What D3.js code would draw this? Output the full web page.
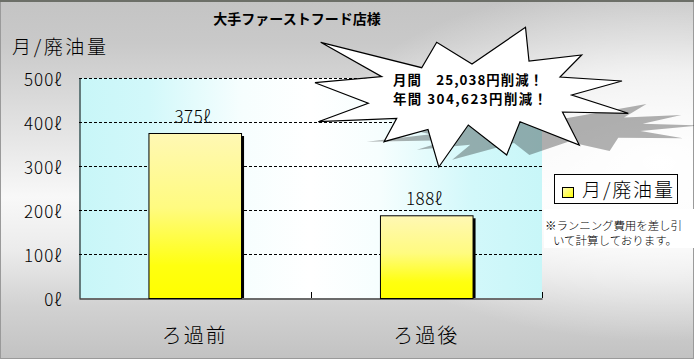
<!DOCTYPE html>
<html><head><meta charset="utf-8">
<script src="https://cdn.jsdelivr.net/npm/d3@7"></script>
<style>
html,body{margin:0;padding:0;background:#fff;}
svg{display:block;}
text{font-family:"Noto Sans CJK JP","Noto Sans",sans-serif;}
.thin{font-weight:300;}
</style></head>
<body>
<svg id="chart" width="694" height="359"></svg>
<script>
// ---- data ----
const categories = ["ろ過前", "ろ過後"];
const values = [375, 188];
const valueLabels = ["375ℓ", "188ℓ"];
const yTicks = [0, 100, 200, 300, 400, 500];
const yTickLabels = ["0ℓ", "100ℓ", "200ℓ", "300ℓ", "400ℓ", "500ℓ"];
const seriesName = "月/廃油量";
const chartTitle = "大手ファーストフード店様";
const calloutLines = ["月間　25,038円削減！", "年間 304,623円削減！"];
const noteLines = ["※ランニング費用を差し引", "いて計算しております。"];
// callout (explosion shape) outline
const starShape = [[320.7,42.3],[421.7,67.7],[436.7,42.3],[472,64],[525.5,27.3],[529,61],[581.7,55],[560,77],[622,81],[571.7,95],[628.3,113.3],[562.5,112],[579.3,145],[520,121.7],[506.7,155],[468.3,125],[438.8,167],[428,129.5],[384,141.7],[396.7,118.3],[318.3,121.7],[368.3,103.3],[315,82.7],[381.7,76.7]];

const svg = d3.select("#chart");
const W = 694, H = 359;
const plot = {x0: 79, x1: 542, y0: 78, y1: 298};

const defs = svg.append("defs");
// background gradient
const bg = defs.append("linearGradient").attr("id","bg").attr("x1",0).attr("y1",0).attr("x2",0).attr("y2",1);
[[0,"#c4c4c4"],[0.12,"#c9c9c9"],[0.35,"#e2e2e2"],[0.55,"#f8f8f8"],[0.7,"#ebebeb"],[0.85,"#d2d2d2"],[1,"#c2c2c2"]]
  .forEach(([o,c])=>bg.append("stop").attr("offset",o).attr("stop-color",c));
const bgR = defs.append("radialGradient").attr("id","bgR").attr("cx",0.95).attr("cy",0.45).attr("r",0.5);
bgR.append("stop").attr("offset",0).attr("stop-color","#fff").attr("stop-opacity",1);
bgR.append("stop").attr("offset",0.5).attr("stop-color","#fff").attr("stop-opacity",0.7);
bgR.append("stop").attr("offset",1).attr("stop-color","#fff").attr("stop-opacity",0);
// plot area gradient
const pg = defs.append("linearGradient").attr("id","pg").attr("x1",0).attr("y1",0).attr("x2",1).attr("y2",0);
[[0,"#c8f6f8"],[0.15,"#d2f8fa"],[0.35,"#f6fefe"],[0.5,"#ffffff"],[0.65,"#f6fefe"],[0.85,"#d2f8fa"],[1,"#c8f6f8"]]
  .forEach(([o,c])=>pg.append("stop").attr("offset",o).attr("stop-color",c));
// bar gradient
const barG = defs.append("linearGradient").attr("id","barG").attr("x1",0).attr("y1",0).attr("x2",0).attr("y2",1);
[[0,"#fff8b4"],[0.45,"#fffb80"],[0.8,"#ffff10"],[1,"#ffff00"]]
  .forEach(([o,c])=>barG.append("stop").attr("offset",o).attr("stop-color",c));
const legG = defs.append("linearGradient").attr("id","legG").attr("x1",0).attr("y1",0).attr("x2",1).attr("y2",1);
legG.append("stop").attr("offset",0).attr("stop-color","#fffbc0");
legG.append("stop").attr("offset",1).attr("stop-color","#ffff00");

// background
svg.append("rect").attr("width",W).attr("height",H).attr("fill","url(#bg)");
svg.append("rect").attr("width",W).attr("height",H).attr("fill","url(#bgR)");
svg.append("rect").attr("x",0.5).attr("y",0.5).attr("width",W-1).attr("height",H-1)
  .attr("fill","none").attr("stroke","#9a9a9a");
svg.append("line").attr("x1",0).attr("x2",W).attr("y1",1).attr("y2",1).attr("stroke","#6c6f68").attr("stroke-width",2);

// scales
const x = d3.scaleBand().domain(categories).range([plot.x0, plot.x1]).paddingInner(0.6).paddingOuter(0.3);
const y = d3.scaleLinear().domain([0, 500]).range([plot.y1, plot.y0]);

// plot area
svg.append("rect").attr("x",plot.x0).attr("y",plot.y0).attr("width",plot.x1-plot.x0).attr("height",plot.y1-plot.y0)
  .attr("fill","url(#pg)");

// gridlines
svg.append("g").selectAll("line").data(yTicks.filter(d=>d>0)).join("line")
  .attr("x1",plot.x0).attr("x2",plot.x1)
  .attr("y1",d=>Math.round(y(d))+0.5).attr("y2",d=>Math.round(y(d))+0.5)
  .attr("stroke","#000").attr("stroke-dasharray","3,2");

// bars (with shadow on right)
const bars = svg.append("g");
bars.selectAll("rect.sh").data(values).join("rect").attr("class","sh")
  .attr("x",(d,i)=>x(categories[i])+3).attr("y",d=>y(d)+3)
  .attr("width",x.bandwidth()).attr("height",d=>y(0)-y(d)-3).attr("fill","#000");
bars.selectAll("rect.b").data(values).join("rect").attr("class","b")
  .attr("x",(d,i)=>x(categories[i])+0.5).attr("y",d=>y(d)+0.5)
  .attr("width",x.bandwidth()).attr("height",d=>y(0)-y(d))
  .attr("fill","url(#barG)").attr("stroke","#000").attr("stroke-width",1);

// value labels
svg.append("g").selectAll("text").data(values).join("text").attr("class","thin")
  .attr("x",(d,i)=>x(categories[i])+x.bandwidth()/2-2).attr("y",d=>y(d)-10)
  .attr("text-anchor","middle").attr("font-size",17).attr("fill","#000").attr("letter-spacing","0.5px")
  .text((d,i)=>valueLabels[i]);

// axes
const yAxis = d3.axisLeft(y).tickValues(yTicks).tickSize(0).tickFormat((d,i)=>yTickLabels[i]).tickPadding(17);
const gy = svg.append("g").attr("transform",`translate(${plot.x0+0.5},0)`).call(yAxis);
gy.select(".domain").attr("stroke","#000");
gy.selectAll("text").attr("class","thin").attr("font-size",17).attr("fill","#000").attr("dy","0.45em")
  .attr("font-family",'"Noto Sans CJK JP",sans-serif').attr("letter-spacing","1px");

const xAxis = d3.axisBottom(x).tickSize(0).tickPadding(30);
const gx = svg.append("g").attr("transform",`translate(0,${plot.y1+0.5})`).call(xAxis);
gx.select(".domain").attr("stroke","#000");
gx.selectAll("text").attr("class","thin").attr("font-size",20).attr("fill","#000").attr("letter-spacing","2px")
  .attr("font-family",'"Noto Sans CJK JP",sans-serif');
// category separators ticks (pointing up)
const sepX = [x(categories[0]) - x.step()*x.paddingOuter() + x.step(), plot.x1];
svg.append("g").selectAll("line").data(sepX).join("line")
  .attr("x1",d=>Math.round(d)+0.5).attr("x2",d=>Math.round(d)+0.5)
  .attr("y1",plot.y1-6).attr("y2",plot.y1).attr("stroke","#000");

// titles
svg.append("text").attr("x",297).attr("y",24).attr("text-anchor","middle")
  .attr("font-size",14).attr("font-weight","bold").attr("fill","#000").text(chartTitle);
svg.append("text").attr("class","thin").attr("x",12).attr("y",54).attr("font-size",19).attr("fill","#000")
  .attr("textLength",94).attr("lengthAdjust","spacing").text(seriesName);

// callout shadow + shape
const line = d3.line().curve(d3.curveLinearClosed);
svg.append("path").attr("d",line(starShape))
  .attr("transform","matrix(1,0,-0.77,0.4,142,93)")
  .attr("fill","#000").attr("fill-opacity",0.3);
svg.append("path").attr("d",line(starShape))
  .attr("fill","#fff").attr("stroke","#000").attr("stroke-width",1.2).attr("stroke-linejoin","miter");
svg.append("g").selectAll("text").data(calloutLines).join("text")
  .attr("x",393).attr("y",(d,i)=>84.5+i*19.5)
  .attr("font-size",13.4).attr("font-weight","bold").attr("fill","#000")
  .attr("textLength",(d,i)=>i===0?150:154).attr("lengthAdjust","spacing")
  .text(d=>d);

// legend
const leg = svg.append("g");
leg.append("rect").attr("x",554.5).attr("y",174.5).attr("width",123).attr("height",29)
  .attr("fill","#fff").attr("stroke","#000");
leg.append("rect").attr("x",562.5).attr("y",187.5).attr("width",11).attr("height",10)
  .attr("fill","url(#legG)").attr("stroke","#000");
leg.append("text").attr("class","thin").attr("x",582).attr("y",197).attr("font-size",19).attr("fill","#000")
  .attr("textLength",91).attr("lengthAdjust","spacing").text(seriesName);

// note
svg.append("rect").attr("x",544).attr("y",209).attr("width",150).attr("height",39).attr("fill","#fff");
svg.append("g").selectAll("text").data(noteLines).join("text").attr("class","thin")
  .attr("x",(d,i)=>i===0?545:553).attr("y",(d,i)=>230+i*15)
  .attr("font-size",11.5).attr("fill","#000")
  .attr("textLength",(d,i)=>i===0?137:124).attr("lengthAdjust","spacing")
  .text(d=>d);
</script>
</body></html>
